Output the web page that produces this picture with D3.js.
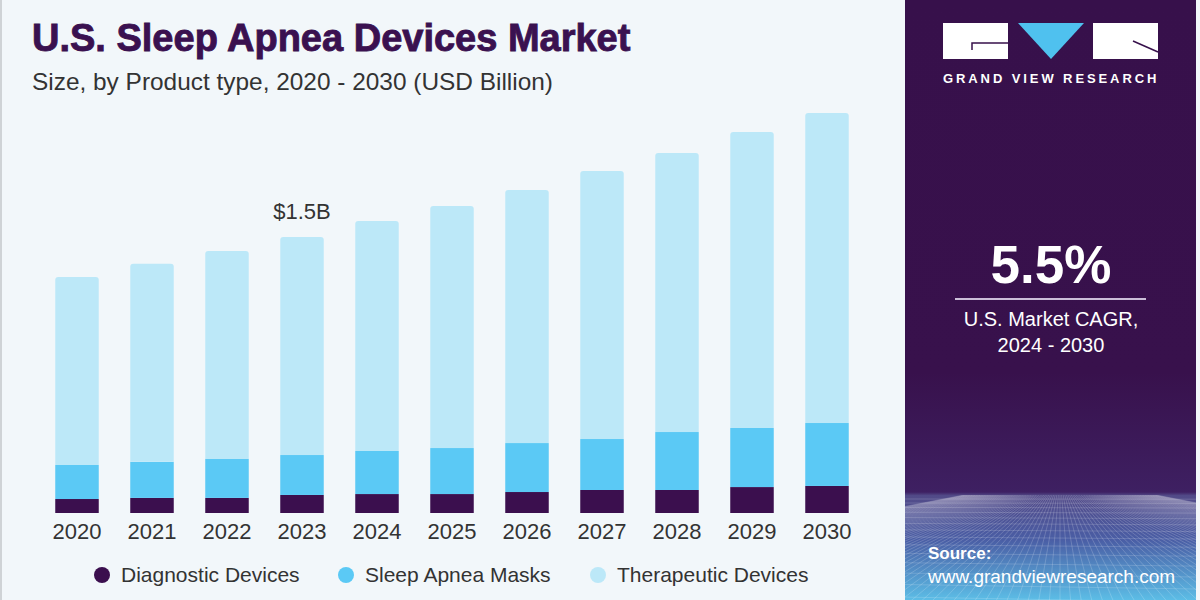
<!DOCTYPE html>
<html>
<head>
<meta charset="utf-8">
<script src="https://cdn.jsdelivr.net/npm/d3@7"></script>
<style>
  html, body { margin: 0; padding: 0; background: #f2f7fa; }
  svg { display: block; }
  text { font-family: "Liberation Sans", Arial, sans-serif; }
</style>
</head>
<body>
<svg id="chart" width="1200" height="600"></svg>
<script>
// ---- data (USD Billion) ----
const years = ["2020","2021","2022","2023","2024","2025","2026","2027","2028","2029","2030"];
const diagnostic  = [0.076,0.082,0.082,0.098,0.103,0.103,0.114,0.125,0.125,0.141,0.147];
const masks       = [0.185,0.196,0.212,0.217,0.234,0.250,0.266,0.277,0.315,0.321,0.342];
const therapeutic = [1.022,1.076,1.130,1.185,1.250,1.315,1.375,1.457,1.516,1.609,1.685];
const seriesNames = ["Diagnostic Devices","Sleep Apnea Masks","Therapeutic Devices"];
const seriesKeys  = ["diagnostic","masks","therapeutic"];
const seriesColors = ["#3b0f4e","#5bc9f5","#bce8f8"];
const annotationYear = "2023";
const annotationText = "$1.5B";
const cagrValue = "5.5%";
const cagrLines = ["U.S. Market CAGR,","2024 - 2030"];

const rows = years.map((y,i)=>({year:y, diagnostic:diagnostic[i], masks:masks[i], therapeutic:therapeutic[i]}));

const svg = d3.select("#chart");
const W = 1200, H = 600;

// background
svg.append("rect").attr("width",W).attr("height",H).attr("fill","#f2f7fa");
svg.append("rect").attr("x",0).attr("y",0).attr("width",2).attr("height",H).attr("fill","#cfd3d6");

// ---- right panel ----
const defs = svg.append("defs");
const pg = defs.append("linearGradient").attr("id","panelGrad").attr("x1",0).attr("y1",0).attr("x2",0).attr("y2",1);
pg.append("stop").attr("offset","0%").attr("stop-color","#37104b");
pg.append("stop").attr("offset","62%").attr("stop-color","#38114c");
pg.append("stop").attr("offset","82%").attr("stop-color","#3e2062");
pg.append("stop").attr("offset","82.6%").attr("stop-color","#524a88");
pg.append("stop").attr("offset","90%").attr("stop-color","#4a5ea5");
pg.append("stop").attr("offset","100%").attr("stop-color","#5cbde6");
const px0 = 905, px1 = 1196;
svg.append("rect").attr("x",px0).attr("y",0).attr("width",px1-px0).attr("height",H).attr("fill","url(#panelGrad)");

// perspective grid at bottom of panel
defs.append("clipPath").attr("id","gridClip").append("rect")
  .attr("x",px0).attr("y",495).attr("width",px1-px0).attr("height",H-495);
const grid = svg.append("g").attr("clip-path","url(#gridClip)")
  .attr("stroke","#ffffff").attr("stroke-width",1).attr("fill","none");
const vx = 1060, vy = 430;
d3.range(-60, 61).forEach(k => {
  const bx = vx + k*14;
  grid.append("line").attr("x1",vx + k*1.6).attr("y1",495).attr("x2",bx).attr("y2",640)
    .attr("stroke-opacity",0.18);
});
let gy = 499, step = 4;
while (gy < 610) {
  grid.append("line").attr("x1",px0).attr("x2",px1).attr("y1",gy).attr("y2",gy + (gy-495)*0.05)
    .attr("stroke-opacity",0.16);
  gy += step; step *= 1.1;
}

// logo
const logo = svg.append("g");
logo.append("rect").attr("x",943).attr("y",23).attr("width",65).attr("height",36).attr("fill","#ffffff");
logo.append("path").attr("d","M972,50 L972,43 L1008,43").attr("stroke","#37104b").attr("stroke-width",1.5).attr("fill","none");
logo.append("path").attr("d","M1018,23 L1084,23 L1051,59 Z").attr("fill","#4fc1ef");
logo.append("rect").attr("x",1093).attr("y",23).attr("width",65).attr("height",36).attr("fill","#ffffff");
logo.append("path").attr("d","M1133,41 L1158,52").attr("stroke","#37104b").attr("stroke-width",1.5).attr("fill","none");
logo.append("text").attr("x",943).attr("y",83).attr("fill","#ffffff")
  .attr("font-size",13).attr("font-weight","bold").attr("letter-spacing",1.6)
  .attr("textLength",215).attr("lengthAdjust","spacing")
  .text("GRAND VIEW RESEARCH");

// CAGR
svg.append("text").attr("x",1051).attr("y",283).attr("text-anchor","middle")
  .attr("fill","#ffffff").attr("font-size",53).attr("font-weight","bold").text(cagrValue);
svg.append("line").attr("x1",955).attr("x2",1146).attr("y1",299).attr("y2",299)
  .attr("stroke","#cbbfd8").attr("stroke-width",2);
cagrLines.forEach((t,i)=>{
  svg.append("text").attr("x",1051).attr("y",326 + i*26).attr("text-anchor","middle")
    .attr("fill","#ffffff").attr("font-size",20).text(t);
});

// source
svg.append("text").attr("x",928).attr("y",559).attr("fill","#ffffff")
  .attr("font-size",17).attr("font-weight","bold").text("Source:");
svg.append("text").attr("x",928).attr("y",583).attr("fill","#ffffff")
  .attr("font-size",19).text("www.grandviewresearch.com");

// ---- titles ----
svg.append("text").attr("x",32).attr("y",51).attr("fill","#3a1150")
  .attr("font-size",38).attr("font-weight","bold")
  .attr("stroke","#3a1150").attr("stroke-width",0.9)
  .text("U.S. Sleep Apnea Devices Market");
svg.append("text").attr("x",32).attr("y",90).attr("fill","#333333")
  .attr("font-size",24).attr("textLength",521).attr("lengthAdjust","spacingAndGlyphs")
  .text("Size, by Product type, 2020 - 2030 (USD Billion)");

// ---- scales ----
const x = d3.scaleBand().domain(years).range([39.5, 864.5]).paddingInner(0.42).paddingOuter(0.21);
const y = d3.scaleLinear().domain([0, 1.5]).range([513, 237]);

const stack = d3.stack().keys(seriesKeys);
const stacked = stack(rows);

const barsG = svg.append("g");
stacked.forEach((layer, li) => {
  const g = barsG.append("g").attr("fill", seriesColors[li]);
  layer.forEach(d => {
    const x0 = x(d.data.year), w = x.bandwidth();
    const yt = y(d[1]), yb = y(d[0]);
    if (li === stacked.length - 1) {
      const r = 3;
      g.append("path").attr("d",
        `M${x0},${yb} L${x0},${yt+r} Q${x0},${yt} ${x0+r},${yt} L${x0+w-r},${yt} Q${x0+w},${yt} ${x0+w},${yt+r} L${x0+w},${yb} Z`);
    } else {
      g.append("rect").attr("x",x0).attr("y",yt).attr("width",w).attr("height",yb-yt);
    }
  });
});

// annotation
const annIdx = years.indexOf(annotationYear);
const annTotal = diagnostic[annIdx] + masks[annIdx] + therapeutic[annIdx];
svg.append("text").attr("x", x(annotationYear) + x.bandwidth()/2).attr("y", y(annTotal) - 18)
  .attr("text-anchor","middle").attr("fill","#333333").attr("font-size",22).text(annotationText);

// x axis
const xAxis = svg.append("g").attr("transform","translate(0,513)")
  .call(d3.axisBottom(x).tickSize(0).tickPadding(10));
xAxis.select(".domain").remove();
xAxis.selectAll("text").attr("font-size",22).attr("fill","#333333")
  .attr("font-family","'Liberation Sans', Arial, sans-serif").attr("dy","0.71em");

// legend
const legendX = [102, 346, 598];
const legend = svg.append("g");
seriesNames.forEach((n,i)=>{
  legend.append("circle").attr("cx",legendX[i]).attr("cy",575).attr("r",8).attr("fill",seriesColors[i]);
  legend.append("text").attr("x",legendX[i]+19).attr("y",582).attr("fill","#333333")
    .attr("font-size",21).text(n);
});
</script>
</body>
</html>
